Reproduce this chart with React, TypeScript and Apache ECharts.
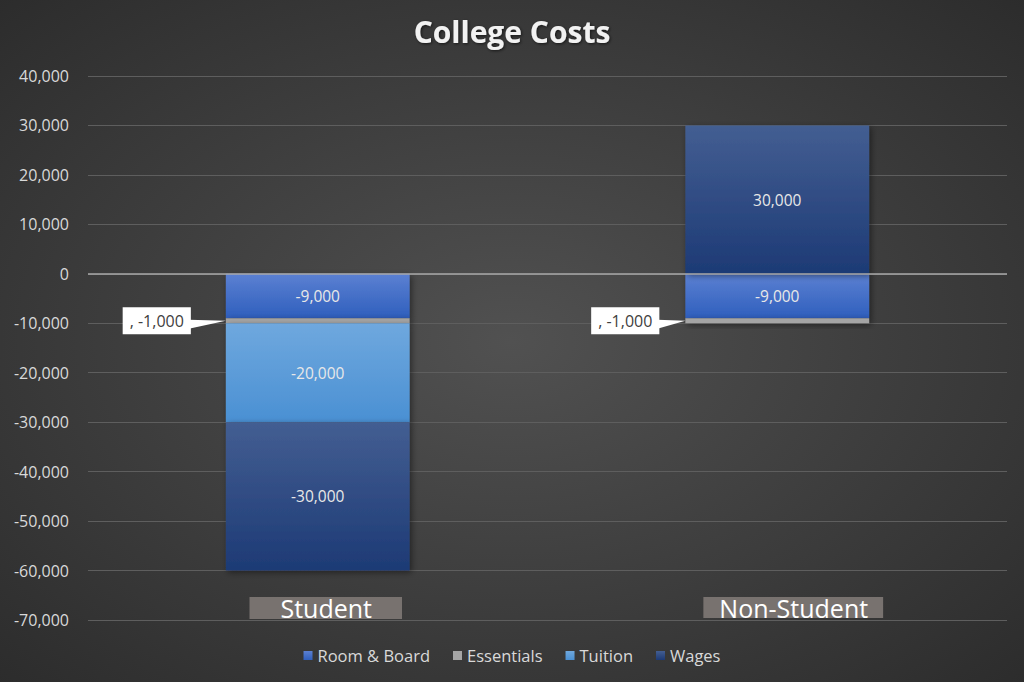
import React, { useEffect, useRef } from "react";
import * as echarts from "echarts";

const categories = ["Student", "Non-Student"];
const seriesNames = ["Room & Board", "Essentials", "Tuition", "Wages"];
const roomBoard = [-9000, -9000];
const essentials = [-1000, -1000];
const tuition = [-20000, 0];
const wages = [-30000, 30000];
const yTicks = { min: -70000, max: 40000, interval: 10000 };

const FONT = "'Open Sans', 'Noto Sans', sans-serif";
const fmt = (v: number) => v.toLocaleString("en-US");

const vgrad = (top: string, bottom: string) =>
  new echarts.graphic.LinearGradient(0, 0, 0, 1, [
    { offset: 0, color: top },
    { offset: 1, color: bottom },
  ]);

export default function App() {
  const ref = useRef<HTMLDivElement>(null);
  useEffect(() => {
    document.body.style.margin = "0";
    const chart = echarts.init(ref.current!, null, { renderer: "svg" });
    const shadow = {
      shadowBlur: 6,
      shadowColor: "rgba(0,0,0,0.45)",
      shadowOffsetX: 2,
      shadowOffsetY: 2,
    };
    const insideLabel = {
      show: true,
      position: "inside",
      color: "#e8e8e8",
      fontFamily: FONT,
      fontSize: 15.5,
      formatter: (p: any) => (p.value === 0 ? "" : fmt(p.value)),
    };
    const calloutDist = [35, 26];
    // callout anchor: middle of the Essentials segment in the stack
    const calloutData = essentials.map((v, i) => [i, roomBoard[i] + v / 2, v]);
    const barFrac = 0.4;

    chart.setOption({
      animation: false,
      backgroundColor: new echarts.graphic.RadialGradient(0.5, 0.5, 0.75, [
        { offset: 0, color: "#515151" },
        { offset: 1, color: "#2a2a2a" },
      ]),
      title: {
        text: "College Costs",
        left: "center",
        top: 11,
        textStyle: {
          color: "#f2f2f2",
          fontFamily: FONT,
          fontWeight: "bold",
          fontSize: 30,
          textShadowColor: "rgba(0,0,0,0.6)",
          textShadowBlur: 3,
          textShadowOffsetX: 1,
          textShadowOffsetY: 1,
        },
      },
      legend: {
        bottom: 13,
        left: "center",
        icon: "rect",
        itemWidth: 9,
        itemHeight: 9,
        itemGap: 23,
        textStyle: { color: "#d9d9d9", fontFamily: FONT, fontSize: 16.5 },
        data: seriesNames,
      },
      grid: { left: 88, right: 17, top: 76, bottom: 62, containLabel: false },
      xAxis: {
        type: "category",
        data: categories,
        axisLine: { show: false, onZero: false },
        axisTick: { show: false },
        axisLabel: {
          inside: true,
          margin: 1,
          verticalAlign: "bottom",
          formatter: (v: string) =>
            v === "Student" ? `{gs|}{s|${v}}` : `{gn|}{n|${v}}`,
          rich: {
            gs: { width: 16, height: 22 },
            gn: { width: 32, height: 22 },
            s: {
              color: "#ffffff",
              fontFamily: FONT,
              fontSize: 25,
              backgroundColor: "#78726f",
              padding: [0, 30, 0, 31],
              height: 22,
              lineHeight: 22,
            },
            n: {
              color: "#ffffff",
              fontFamily: FONT,
              fontSize: 25,
              backgroundColor: "#78726f",
              padding: [0, 15, 0, 16],
              height: 21,
              lineHeight: 21,
              verticalAlign: "top",
            },
          },
        },
      },
      yAxis: {
        type: "value",
        min: yTicks.min,
        max: yTicks.max,
        interval: yTicks.interval,
        axisLine: { show: false },
        axisTick: { show: false },
        axisLabel: {
          color: "#d9d9d9",
          fontFamily: FONT,
          fontSize: 16,
          margin: 19,
          formatter: (v: number) => fmt(v),
        },
        splitLine: { lineStyle: { color: "#5e5e5e", width: 1 } },
      },
      series: [
        {
          name: seriesNames[0],
          type: "bar",
          stack: "total",
          barWidth: "40%",
          data: roomBoard,
          itemStyle: { color: vgrad("#5b80d2", "#2f5fbd"), ...shadow },
          label: insideLabel,
          markLine: {
            silent: true,
            symbol: "none",
            label: { show: false },
            lineStyle: { color: "#a8a8a8", type: "solid", width: 1.5 },
            data: [{ yAxis: 0 }],
          },
        },
        {
          name: seriesNames[1],
          type: "bar",
          stack: "total",
          data: essentials,
          itemStyle: { color: "#a5a5a5", ...shadow },
          label: { show: false },
        },
        {
          name: seriesNames[2],
          type: "bar",
          stack: "total",
          data: tuition,
          itemStyle: { color: vgrad("#6fa8de", "#4a90d3"), ...shadow },
          label: insideLabel,
        },
        {
          name: seriesNames[3],
          type: "bar",
          stack: "total",
          data: wages,
          itemStyle: { color: vgrad("#435e92", "#1d3a75"), ...shadow },
          label: insideLabel,
        },
        {
          name: "callout",
          type: "custom",
          z: 10,
          silent: true,
          data: calloutData,
          encode: { x: 0, y: 1 },
          renderItem: (params: any, api: any) => {
            const i = api.value(0);
            const pt = api.coord([i, api.value(1)]);
            const band = api.size([1, 0])[0];
            const barLeft = pt[0] - (band * barFrac) / 2;
            const boxRight = barLeft - calloutDist[i];
            const y = pt[1];
            return {
              type: "group",
              children: [
                {
                  type: "polygon",
                  shape: {
                    points: [
                      [boxRight - 2, y - 1],
                      [boxRight - 2, y + 8],
                      [barLeft, y],
                    ],
                  },
                  style: { fill: "#ffffff" },
                },
                {
                  type: "text",
                  x: boxRight,
                  y: y,
                  style: {
                    text: ", " + fmt(api.value(2)),
                    fill: "#404040",
                    font: `16px ${FONT}`,
                    align: "right",
                    verticalAlign: "middle",
                    backgroundColor: "#ffffff",
                    padding: [6, 7, 5, 7],
                  },
                },
              ],
            };
          },
        },
      ],
    });
    return () => chart.dispose();
  }, []);
  return <div ref={ref} style={{ width: 1024, height: 682 }} />;
}
